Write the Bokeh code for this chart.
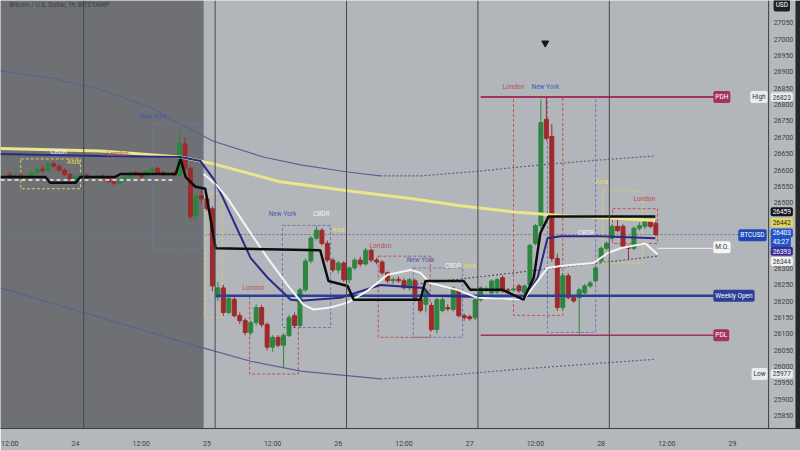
from bokeh.plotting import figure
from bokeh.models import Range1d, FixedTicker, Label, Span, ColumnDataSource
from bokeh.embed import file_html
from bokeh.resources import INLINE
from bokeh.core.properties import value

# ---------------- data ----------------
tick_hours = [-12, 0, 12, 24, 36, 48, 60, 72, 84, 96, 108, 120]
tick_labels = ["12:00", "24", "12:00", "25", "12:00", "26", "12:00", "27", "12:00", "28", "12:00", "29"]
# price-scale labels that are visible (others are hidden under the value tags)
price_ticks = [25850, 25900, 25950, 26000, 26050, 26100, 26150, 26200, 26250, 26300,
               26500, 26550, 26600, 26650, 26700, 26750, 26800, 26850, 26900,
               26950, 27000, 27050]

hours = list(range(-12, 107))
opens = [26585, 26578, 26583, 26576, 26580, 26592, 26603, 26598, 26620, 26612,
         26600, 26586, 26574, 26580, 26585, 26575, 26578, 26582, 26574, 26565,
         26560, 26570, 26578, 26592, 26585, 26580, 26596, 26605, 26592, 26585,
         26588, 26584, 26680, 26605, 26460, 26522, 26512, 26482, 26212, 26240,
         26165, 26205, 26155, 26140, 26104, 26134, 26180, 26128, 26059, 26089,
         26065, 26095, 26155, 26125, 26234, 26322, 26392, 26416, 26376, 26325,
         26295, 26316, 26265, 26301, 26325, 26313, 26355, 26325, 26319, 26286,
         26262, 26266, 26262, 26240, 26262, 26204, 26190, 26186, 26113, 26171,
         26180, 26174, 26231, 26155, 26152, 26149, 26204, 26234, 26225, 26228,
         26271, 26234, 26234, 26246, 26225, 26250, 26376, 26430, 26755, 26703,
         26330, 26180, 26277, 26210, 26210, 26225, 26246, 26262, 26322, 26361,
         26392, 26428, 26428, 26367, 26361, 26422, 26428, 26446, 26437]
highs = [26595, 26590, 26592, 26588, 26597, 26610, 26615, 26625, 26628, 26618,
         26605, 26590, 26585, 26590, 26590, 26582, 26586, 26588, 26580, 26570,
         26575, 26582, 26595, 26598, 26590, 26600, 26610, 26610, 26598, 26592,
         26595, 26725, 26700, 26612, 26530, 26540, 26525, 26490, 26258, 26250,
         26215, 26215, 26165, 26148, 26140, 26190, 26188, 26135, 26095, 26096,
         26102, 26158, 26165, 26240, 26330, 26398, 26428, 26422, 26385, 26332,
         26322, 26322, 26306, 26332, 26335, 26362, 26360, 26332, 26325, 26290,
         26272, 26275, 26270, 26270, 26268, 26210, 26238, 26195, 26210, 26212,
         26190, 26245, 26238, 26162, 26158, 26210, 26245, 26245, 26266, 26270,
         26278, 26240, 26242, 26252, 26250, 26375, 26436, 26815, 26824, 26740,
         26345, 26285, 26285, 26218, 26240, 26252, 26262, 26306, 26366, 26382,
         26434, 26452, 26434, 26372, 26428, 26440, 26455, 26452, 26445]
lows = [26570, 26568, 26572, 26566, 26575, 26585, 26590, 26595, 26605, 26595,
        26582, 26570, 26568, 26575, 26570, 26566, 26570, 26570, 26560, 26552,
        26555, 26565, 26572, 26580, 26575, 26576, 26590, 26588, 26580, 26578,
        26578, 26580, 26598, 26450, 26445, 26500, 26475, 26230, 26200, 26155,
        26160, 26150, 26130, 26095, 26095, 26125, 26120, 26050, 26045, 26058,
        25998, 26090, 26118, 26118, 26228, 26315, 26385, 26370, 26318, 26288,
        26285, 26258, 26255, 26295, 26305, 26308, 26318, 26312, 26280, 26255,
        26252, 26255, 26235, 26232, 26198, 26165, 26165, 26108, 26100, 26165,
        26170, 26168, 26150, 26140, 26140, 26142, 26198, 26228, 26220, 26222,
        26225, 26225, 26228, 26225, 26218, 26245, 26370, 26420, 26690, 26320,
        26170, 26172, 26205, 26195, 26098, 26220, 26240, 26255, 26316, 26355,
        26386, 26410, 26360, 26325, 26355, 26415, 26420, 26422, 26398]
closes = [26578, 26583, 26576, 26580, 26592, 26603, 26598, 26620, 26612, 26600,
          26586, 26574, 26580, 26585, 26575, 26578, 26582, 26574, 26565, 26560,
          26570, 26578, 26592, 26585, 26580, 26596, 26605, 26592, 26585, 26588,
          26584, 26680, 26605, 26458, 26522, 26512, 26482, 26246, 26240, 26165,
          26208, 26155, 26140, 26104, 26134, 26180, 26128, 26059, 26089, 26065,
          26095, 26149, 26125, 26234, 26322, 26392, 26416, 26376, 26325, 26295,
          26316, 26265, 26301, 26325, 26313, 26355, 26325, 26319, 26286, 26262,
          26266, 26262, 26240, 26265, 26204, 26171, 26231, 26113, 26204, 26204,
          26176, 26240, 26155, 26149, 26146, 26204, 26240, 26237, 26261, 26265,
          26231, 26231, 26237, 26231, 26246, 26370, 26430, 26745, 26697, 26330,
          26180, 26277, 26210, 26200, 26234, 26246, 26255, 26301, 26361, 26376,
          26428, 26415, 26367, 26361, 26422, 26430, 26446, 26428, 26403]

# indicator lines (hour, price)
yellow_x = [-13.7, 4.6, 19.2, 25.2, 37.4, 49.7, 61.2, 70.3, 81.3, 88.6, 95.9, 105.9]
yellow_y = [26666, 26658, 26640, 26619, 26564, 26537, 26513, 26491, 26470, 26461, 26455, 26446]

upper_x = [-13.7, -4.6, 4.6, 13.7, 19.2, 25.2, 34.3, 41.1, 49.7, 55.7]
upper_y = [26902, 26882, 26846, 26791, 26740, 26688, 26640, 26616, 26594, 26582]
upper_dot_x = [55.7, 63.0, 74.0, 84.9, 95.9, 105.9]
upper_dot_y = [26582, 26582, 26597, 26616, 26631, 26643]

lower_x = [-13.7, -4.6, 4.6, 13.7, 22.8, 32.0, 41.1, 55.7]
lower_y = [26240, 26195, 26149, 26104, 26059, 26016, 25986, 25962]
lower_dot_x = [55.7, 68.5, 81.3, 95.9, 105.9]
lower_dot_y = [25962, 25974, 25992, 26010, 26022]

black_x = [-13.7, -5.5, -4.6, 0, 0.9, 7.3, 8.2, 18.3, 19.2, 20.1, 21.9, 23.7, 25.6, 44.7,
           46.2, 49.7, 50.8, 63.0, 63.9, 70.9, 72.1, 78.0, 81.8, 83.7, 84.9, 86.4, 105.9]
black_y = [26579, 26579, 26561, 26561, 26579, 26579, 26588, 26588, 26634, 26579, 26549, 26543,
           26361, 26355, 26261, 26246, 26204, 26204, 26261, 26261, 26234, 26234, 26204, 26271,
           26407, 26458, 26458]

navy_x = [-13.7, 4.6, 19.2, 22.8, 25.2, 27.0, 28.9, 32.0, 35.1, 39.3, 41.1, 48.4, 55.7,
          63.6, 64.8, 72.1, 81.8, 84.4, 86.2, 88.6, 95.9, 105.9]
navy_y = [26649, 26643, 26640, 26628, 26573, 26513, 26443, 26331, 26271, 26204, 26201, 26210,
          26249, 26240, 26216, 26213, 26204, 26271, 26392, 26398, 26398, 26392]

white_x = [23.4, 25.9, 27.8, 31.4, 35.1, 38.7, 41.6, 43.5, 46.6, 49.7, 53.3, 57.0, 61.2,
           63.0, 64.8, 69.8, 73.4, 81.8, 84.4, 86.2, 88.6, 94.6, 97.2, 99.5, 104.1, 106.3]
white_y = [26588, 26552, 26513, 26422, 26331, 26249, 26189, 26174, 26180, 26195, 26231, 26280,
           26295, 26286, 26255, 26234, 26210, 26204, 26261, 26301, 26307, 26316, 26346, 26361,
           26376, 26343]
white_dash_x = [-13.7, 17.7]
white_dash_y = [26570, 26570]

trend_x = [59.4, 106.3]
trend_y = [26246, 26337]

# key levels
pdh, pdl, weekly_open, mid_open, last_price = 26823, 26095, 26216, 26361, 26403
level_start, level_end = 74.0, 118.2
weekly_start = 25.6
session_hours = [1.5, 25.5, 49.5, 73.5, 97.5]
shade_end = 23.4

# session boxes
box_left = [-10.0, 14.1, 23.7, 31.8, 37.8, 55.3, 61.7, 80.0, 86.2, 96.3, 98.1]
box_right = [0.9, 23.2, 26.8, 40.7, 46.6, 64.8, 70.7, 89.0, 95.0, 103.6, 106.3]
box_top = [26634, 26740, 26528, 26216, 26431, 26337, 26301, 26822, 26822, 26537, 26482]
box_bottom = [26543, 26361, 26150, 25977, 26119, 26089, 26089, 26156, 26104, 26316, 26376]
box_kind = ["asia", "ny", "asia", "london", "ny", "london", "ny", "london", "ny", "asia", "london"]

# session labels
sess_x = [-3.1, -0.4, 7.7, 14.1, 32.5, 37.8, 44.9, 48.0, 55.7, 63.0, 68.9, 72.0, 80.0, 85.8, 93.2, 96.1, 103.9]
sess_y = [26655, 26625, 26649, 26761, 26240, 26467, 26467, 26416, 26367, 26325, 26307, 26307,
          26855, 26855, 26407, 26564, 26513]
sess_text = ["CBDR", "Asia", "London", "New York", "London", "New York", "CBDR", "Asia", "London",
             "New York", "CBDR", "Asia", "London", "New York", "CBDR", "Asia", "London"]

marker_x = [85.8]
marker_y = [26988]

# ---------------- styling / layout ----------------
GREEN, RED = "#2e8540", "#9e2a2b"
kind_color = {"asia": "#d9d06e", "ny": "#6a78b0", "london": "#c0554c"}
text_color = {"CBDR": "#f2f2f2", "Asia": "#e6dc66", "London": "#b4524a", "New York": "#3f5cb8"}

X0, X1 = -13.70, 132.42        # full plot width (chart + price scale)
Y0, Y1 = 25810.5, 27118.0
AX = 126.6                     # price-scale divider
AX_END = 131.5                 # start of dark right edge

p = figure(width=800, height=450, x_range=Range1d(X0, X1), y_range=Range1d(Y0, Y1),
           y_axis_location=None, toolbar_location=None, output_backend="svg",
           min_border_left=0, min_border_top=0, min_border_right=0, min_border_bottom=18)
p.background_fill_color = "#b2b5ba"
p.border_fill_color = "#b4b7bb"
p.outline_line_color = None
p.grid.visible = False

xa = p.xaxis[0]
xa.ticker = FixedTicker(ticks=tick_hours)
xa.major_label_overrides = {h: t for h, t in zip(tick_hours, tick_labels)}
xa.major_tick_line_color = None
xa.minor_tick_line_color = None
xa.axis_line_color = "#3a3c40"
xa.major_label_text_font_size = "7px"
xa.major_label_text_color = "#3c3f45"
xa.major_label_text_font = "Roboto"
xa.major_label_standoff = 5

# dark shaded past region
p.quad(left=[X0], right=[shade_end], bottom=[Y0], top=[Y1], fill_color="#6e7074", line_color=None)

for h in session_hours:
    p.add_layout(Span(location=h, dimension="height", line_color="#46484d", line_width=1))

# bands
p.line(upper_x, upper_y, line_color="#56648f", line_width=1.2)
p.line(upper_dot_x, upper_dot_y, line_color="#56648f", line_width=1.2, line_dash="2 2")
p.line(lower_x, lower_y, line_color="#56648f", line_width=1.2)
p.line(lower_dot_x, lower_dot_y, line_color="#56648f", line_width=1.2, line_dash="2 2")

# last price line
p.segment(x0=[X0], y0=[last_price], x1=[AX], y1=[last_price], line_color="#6d7590", line_width=1, line_dash="2 2")
p.line(trend_x, trend_y, line_color="#55575c", line_width=1.2, line_dash="2 2")

# session boxes
p.quad(left=box_left, right=box_right, top=box_top, bottom=box_bottom, fill_alpha=0,
       line_color=[kind_color[k] for k in box_kind], line_dash="3 2", line_width=1)

# candles
colors = [GREEN if c >= o else RED for o, c in zip(opens, closes)]
src = ColumnDataSource(dict(x=hours, o=opens, h=highs, l=lows, c=closes,
                            top=[max(o, c) for o, c in zip(opens, closes)],
                            bot=[min(o, c) for o, c in zip(opens, closes)], color=colors))
p.segment(x0="x", y0="l", x1="x", y1="h", line_color="color", line_width=1, source=src)
p.vbar(x="x", width=0.72, top="top", bottom="bot", fill_color="color", line_color="color", source=src)

# levels
p.segment(x0=[level_start], y0=[pdh], x1=[level_end], y1=[pdh], line_color="#a3325f", line_width=2)
p.segment(x0=[level_start], y0=[pdl], x1=[level_end], y1=[pdl], line_color="#a3325f", line_width=1.5)
p.segment(x0=[weekly_start], y0=[weekly_open], x1=[level_end], y1=[weekly_open], line_color="#2b3f96", line_width=2.5)
p.segment(x0=[106.3], y0=[mid_open], x1=[116.5], y1=[mid_open], line_color="#f4f4f4", line_width=1)

# indicator lines
p.line(yellow_x, yellow_y, line_color="#ece58a", line_width=3)
p.line(navy_x, navy_y, line_color="#2c2a86", line_width=2)
p.line(white_dash_x, white_dash_y, line_color="#f2f2f2", line_width=1.5, line_dash="4 3")
p.line(white_x, white_y, line_color="#f4f4f4", line_width=2)
p.line(black_x, black_y, line_color="#0d0d0f", line_width=2.5)

p.scatter(marker_x, marker_y, marker="inverted_triangle", size=7, color="#151515")

p.text(x=sess_x, y=sess_y, text=sess_text, text_color=[text_color[t] for t in sess_text],
       text_font_size="6.5px", text_align="center", text_baseline="middle", text_font=value("Roboto"))

# price scale (right)
p.quad(left=[AX], right=[AX_END], bottom=[Y0], top=[Y1], fill_color="#b5b8bc", line_color=None)
p.quad(left=[AX_END], right=[X1], bottom=[Y0], top=[Y1], fill_color="#26272b", line_color=None)
p.add_layout(Span(location=AX, dimension="height", line_color="#3a3c40", line_width=1))
p.text(x=[AX] * len(price_ticks), y=price_ticks, text=[str(t) for t in price_ticks],
       x_offset=5, text_color="#3c3f45", text_font_size="7px", text_align="left",
       text_baseline="middle", text_font=value("Roboto"))


def tag(x, y, text, bg, fg, align="left", xo=0, size="6.5px"):
    p.add_layout(Label(x=x, y=y, text=text, background_fill_color=bg, text_color=fg,
                       text_font_size=size, text_align=align, text_baseline="middle",
                       x_offset=xo, padding=2, border_radius=2, text_font="Roboto"))


# tags on lines
tag(116.5, pdh, "PDH", "#a3325f", "#ffffff")
tag(116.5, pdl, "PDL", "#a3325f", "#ffffff")
tag(116.5, weekly_open, "Weekly Open", "#2b3f96", "#ffffff")
tag(116.5, mid_open + 3, "M.O.", "#f4f4f4", "#333333")

# tags on the price scale
tag(AX, 26823, "High", "#e9ebef", "#333", align="right", xo=-1)
tag(AX, 26823, "26823", "#e9ebef", "#333", xo=2)
tag(AX, 26473, "26459", "#131722", "#ffffff", xo=2)
tag(AX, 26440, "26442", "#e3d65a", "#222", xo=2)
tag(AX, 26401, "BTCUSD", "#2149b5", "#ffffff", align="right", xo=-2)
tag(AX, 26408, "26403", "#2454c8", "#ffffff", xo=2)
tag(AX, 26381, "43:27", "#2454c8", "#ffffff", xo=2)
tag(AX, 26352, "26393", "#3a2d92", "#ffffff", xo=2)
tag(AX, 26321, "26344", "#f2f2f2", "#333", xo=2)
tag(AX, 25977, "Low", "#e9ebef", "#333", align="right", xo=-1)
tag(AX, 25977, "25977", "#e9ebef", "#333", xo=2)
tag(AX, 27103, "USD", "#1e1f23", "#ffffff", xo=5)

p.add_layout(Label(x=X0, y=27103, text="Bitcoin / U.S. Dollar, 1h, BITSTAMP", text_font_size="6.5px",
                   text_color="#3a3c42", text_baseline="middle", x_offset=9, text_font="Roboto"))

open("out.html", "w").write(file_html(p, INLINE))
